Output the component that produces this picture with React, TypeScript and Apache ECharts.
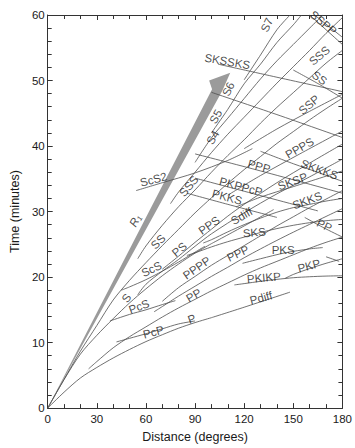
import React, { useEffect, useRef } from "react";
import * as echarts from "echarts";

// Axis ranges and tick labels
const distanceRange = [0, 180];
const distanceStep = 30;
const timeRange = [0, 60];
const timeStep = 10;

// Travel-time branches: [distance (deg), time (min)]
const P = [[0, 0], [10, 2.43], [20, 4.6], [30, 6.2], [40, 7.65], [50, 8.95], [60, 10.15], [70, 11.2], [80, 12.2], [90, 13.05], [100, 13.8]];
const Pdiff = [[100, 13.8], [120, 15.4], [148, 17.7]];
const PcP = [[42, 10.1], [50, 10.65], [60, 11.35], [70, 12.1], [80, 12.85], [90, 13.3]];
const PP = [[25, 6.0], [30, 7.1], [40, 9.2], [50, 10.9], [60, 12.4], [70, 13.9], [80, 15.3], [90, 16.6], [100, 17.9], [110, 19.1], [120, 20.3], [130, 21.4], [140, 22.4], [150, 23.4], [160, 24.4], [170, 25.3], [180, 26.1]];
const PPback = [[157, 29.1], [168, 27.6], [180, 26.1]];
const PPP = [[65, 14.7], [70, 15.5], [80, 17.1], [90, 18.6], [100, 20.1], [110, 21.5], [120, 22.95], [130, 24.3], [140, 25.6], [150, 26.85], [160, 28.05], [170, 29.25], [180, 30.45]];
const PPPP = [[70, 16.3], [80, 18.4], [90, 20.1], [100, 21.8], [110, 23.3], [120, 24.8], [130, 26.3], [140, 27.8], [150, 29.2], [160, 30.6], [170, 31.9], [180, 33.2]];
const PKIKP = [[114, 18.8], [120, 19.0], [130, 19.35], [140, 19.65], [150, 19.9], [160, 20.05], [170, 20.15], [180, 20.2]];
const PKP = [[145, 19.8], [150, 20.4], [160, 21.3], [170, 22.1], [180, 22.8]];
const PKPback = [[170, 23.1], [178, 22.4]];
const PKS = [[119, 22.1], [130, 22.8], [145, 23.7], [160, 24.3], [168, 24.5]];
const SKS = [[85, 23.3], [90, 23.7], [100, 24.6], [110, 25.4], [120, 26.1], [130, 26.8], [140, 27.4], [150, 27.9], [160, 28.3], [170, 28.6], [180, 28.8]];
const SKKS = [[95, 25.2], [100, 25.7], [110, 26.9], [120, 28.0], [130, 29.0], [140, 29.9], [150, 30.6], [160, 31.1], [170, 31.6], [180, 32.0]];
const SKKKS = [[130, 39.2], [150, 37.3], [166, 35.9], [180, 34.6]];
const SKSP = [[115, 30.7], [130, 32.2], [150, 33.8], [180, 36.2]];
const PKKS = [[85, 32.8], [110, 31.1], [140, 29.1]];
const PKPPcP = [[90, 35.1], [120, 33.1], [165, 30.1]];
const PPPupper = [[90, 38.8], [130, 36.2], [180, 32.8]];
const PPPS = [[110, 32.5], [130, 35.5], [154, 38.8], [180, 42.3]];
const S = [[0, 0], [10, 4.35], [20, 8.25], [30, 11.1], [40, 13.65], [50, 16.05], [60, 18.2], [70, 20.2], [80, 22.0], [90, 23.65], [100, 25.1]];
const Sdiff = [[100, 25.1], [120, 27.8], [138, 30.3]];
const ScS = [[45, 18.0], [50, 18.5], [60, 19.6], [70, 20.9], [80, 22.3], [90, 23.8], [96, 24.7]];
const PcS = [[38, 13.3], [50, 14.3], [60, 15.0], [70, 15.8], [78, 16.4]];
const PS = [[55, 17.3], [60, 18.9], [70, 20.9], [80, 22.7], [90, 24.7], [100, 26.6], [120, 29.8], [140, 32.7], [160, 35.3], [180, 38.0]];
const PPS = [[70, 21.2], [80, 23.2], [90, 25.3], [100, 27.3], [110, 29.3], [120, 31.1], [140, 34.4], [160, 37.4], [180, 40.3]];
const SS = [[0, 0], [10, 4.4], [20, 8.7], [30, 12.6], [40, 16.5], [50, 19.5], [60, 22.2], [70, 24.8], [80, 27.3], [90, 29.8], [100, 32.1], [110, 34.3], [120, 36.4], [130, 38.4], [140, 40.4], [150, 42.2], [160, 44.0], [170, 45.7], [180, 47.3]];
const SSback = [[150, 51.6], [166, 49.4], [180, 47.3]];
const SSS = [[55, 22.8], [60, 24.75], [70, 27.9], [80, 30.75], [90, 33.3], [100, 36.0], [110, 38.55], [120, 40.95], [130, 43.5], [140, 45.9], [150, 48.15], [160, 50.4], [170, 52.65], [180, 54.6]];
const SSP = [[120, 39.6], [140, 42.6], [160, 45.3], [180, 47.9]];
const SSPP = [[160, 60], [180, 55.5]];
const SSPP2 = [[163, 60], [180, 56.6]];
const ScS2 = [[54, 33.2], [70, 34.4], [90, 35.9], [110, 37.8], [125, 39.6]];
const S4 = [[75, 31.2], [80, 33.0], [90, 36.0], [100, 39.0], [110, 41.8], [120, 44.4], [130, 47.0], [140, 49.6], [150, 52.1], [160, 54.6], [170, 57.2], [180, 59.6]];
const S5 = [[90, 37.5], [100, 41.25], [110, 44.25], [120, 47.25], [130, 50.25], [140, 53.0], [150, 55.5], [160, 58.0], [168, 60]];
const S6 = [[100, 42.0], [110, 45.6], [120, 49.5], [130, 52.5], [140, 55.8], [150, 58.5], [155, 60]];
const S7 = [[120, 50.1], [130, 53.9], [140, 57.75], [148, 60]];
const SKSSKS = [[104, 52.5], [140, 50.5], [180, 48.3]];
const SKSSKSlower = [[100, 48.2], [140, 44.8], [180, 41.3]];

// Rayleigh-wave arrow outline
const rayleighArrow = [[0, 0], [106.8, 48.5], [111.5, 51.2], [98.6, 50.0], [100.4, 48.65]];

const branches = [P, Pdiff, PcP, PP, PPback, PPP, PPPP, PKIKP, PKP, PKPback, PKS, SKS, SKKS, SKKKS, SKSP, PKKS, PKPPcP, PPPupper, PPPS, S, Sdiff, ScS, PcS, PS, PPS, SS, SSback, SSS, SSP, SSPP, SSPP2, ScS2, S4, S5, S6, S7, SKSSKS, SKSSKSlower];

// Phase names: [text, distance, time, rotation]
const phaseLabels: [string, number, number, number][] = [
  ["P", 88.0, 13.6, 20],
  ["PcP", 64.6, 11.6, 15],
  ["PcS", 55.8, 15.5, 20],
  ["S", 48.1, 16.8, 55],
  ["ScS", 63.4, 21.2, 25],
  ["SS", 67.5, 25.4, 45],
  ["PS", 80.4, 24.2, 40],
  ["PP", 89.2, 17.2, 30],
  ["PPPP", 91.0, 21.4, 35],
  ["PPP", 116.2, 23.6, 25],
  ["PPS", 98.6, 27.9, 35],
  ["Sdiff", 118.5, 29.3, 30],
  ["SKS", 126.2, 26.8, 5],
  ["PKS", 143.8, 24.2, 0],
  ["PKIKP", 132.0, 19.9, 5],
  ["PKP", 159.6, 21.7, 15],
  ["Pdiff", 130.3, 16.8, 15],
  ["PP", 169.0, 27.9, -25],
  ["SKKS", 158.5, 31.7, 20],
  ["SKSP", 149.6, 34.6, 20],
  ["SKKKS", 166.0, 36.4, -20],
  ["PPPS", 153.8, 39.7, 30],
  ["PPP", 129.1, 36.9, -15],
  ["PKPPcP", 118.0, 33.8, -15],
  ["PKKS", 109.6, 32.2, -15],
  ["SSS", 86.2, 33.9, 50],
  ["ScS2", 64.6, 34.9, 15],
  ["S4", 100.9, 41.3, 60],
  ["S5", 102.7, 44.5, 60],
  ["S6", 110.3, 48.7, 65],
  ["S7", 133.8, 58.5, 65],
  ["SKSSKS", 109.7, 52.9, -10],
  ["SSS", 166.0, 53.8, 40],
  ["SS", 166.0, 50.4, -35],
  ["SSP", 159.6, 46.3, 40],
  ["SSPP", 168.4, 58.8, -40],
];
const rayleighLabel: [string, number, number, number] = ["R\u2081", 53.4, 28.6, 62];

const FONT = "'Liberation Sans', Arial, Helvetica, sans-serif";
const LINE = "#4d4d4d";

export default function App() {
  const ref = useRef<HTMLDivElement>(null);

  useEffect(() => {
    if (!ref.current) return;
    const chart = echarts.init(ref.current, undefined, { renderer: "svg" });

    const xBase = {
      type: "value" as const,
      min: distanceRange[0],
      max: distanceRange[1],
      interval: distanceStep,
      splitLine: { show: false },
      axisLine: { show: true, onZero: false, lineStyle: { color: "#333", width: 1 } },
      axisTick: { show: true, inside: true, length: 5, lineStyle: { color: "#333" } },
      minorTick: { show: true, splitNumber: 3, length: 4, lineStyle: { color: "#333" } },
    };
    const yBase = {
      type: "value" as const,
      min: timeRange[0],
      max: timeRange[1],
      interval: timeStep,
      splitLine: { show: false },
      axisLine: { show: true, onZero: false, lineStyle: { color: "#333", width: 1 } },
      axisTick: { show: true, inside: true, length: 5, lineStyle: { color: "#333" } },
      minorTick: { show: true, splitNumber: 5, length: 4, lineStyle: { color: "#333" } },
    };

    const lineSeries = branches.map((data) => ({
      type: "line" as const,
      data,
      showSymbol: false,
      symbol: "none",
      smooth: 0.3,
      silent: true,
      lineStyle: { color: LINE, width: 0.8 },
      z: 3,
    }));

    const labelData = [...phaseLabels, rayleighLabel].map(([text, d, t, rot]) => ({
      value: [d, t],
      name: text,
      label: {
        show: true,
        position: "inside" as const,
        formatter: text,
        rotate: rot,
        fontStyle: text === rayleighLabel[0] ? ("italic" as const) : ("normal" as const),
      },
    }));

    chart.setOption({
      animation: false,
      backgroundColor: "#ffffff",
      grid: { left: 40, right: 9, top: 15, bottom: 26, containLabel: false },
      xAxis: [
        {
          ...xBase,
          position: "bottom",
          name: "Distance (degrees)",
          nameLocation: "middle",
          nameGap: 13,
          nameTextStyle: { fontFamily: FONT, fontSize: 12.5, color: "#1a1a1a" },
          axisLabel: { show: true, fontFamily: FONT, fontSize: 11.5, color: "#1a1a1a", margin: 5 },
        },
        { ...xBase, position: "top", axisLabel: { show: false } },
      ],
      yAxis: [
        {
          ...yBase,
          position: "left",
          name: "Time (minutes)",
          nameLocation: "middle",
          nameGap: 21,
          nameTextStyle: { fontFamily: FONT, fontSize: 12.5, color: "#1a1a1a" },
          axisLabel: { show: true, fontFamily: FONT, fontSize: 11.5, color: "#1a1a1a", margin: 3 },
        },
        { ...yBase, position: "right", axisLabel: { show: false } },
      ],
      series: [
        {
          type: "custom",
          silent: true,
          data: [[0, 0]],
          z: 2,
          renderItem: (params: any, api: any) => {
            const pts = rayleighArrow.map((p) => api.coord(p));
            return { type: "polygon", shape: { points: pts }, style: { fill: "#9b9b9b" } };
          },
        },
        ...lineSeries,
        {
          type: "scatter",
          symbolSize: 0,
          silent: true,
          z: 5,
          data: labelData,
          label: { fontFamily: FONT, fontSize: 11.5, color: "#1a1a1a" },
        },
      ],
    });

    return () => chart.dispose();
  }, []);

  return <div ref={ref} style={{ position: "fixed", left: 0, top: 0, width: 355, height: 448 }} />;
}
